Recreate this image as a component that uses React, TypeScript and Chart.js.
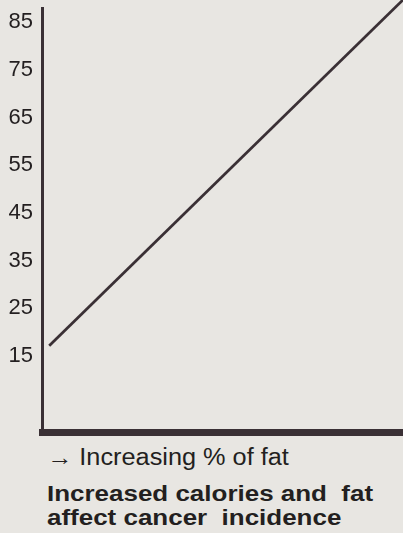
import React, { useEffect, useRef } from "react";
import { Chart, registerables } from "chart.js";

Chart.register(...registerables);

// Data
const fatPercent = [2, 100];
const cancerIncidence = [17.1, 89.7];
const yTickValues = [15, 25, 35, 45, 55, 65, 75, 85];
const xAxisLabel = "→ Increasing % of fat";
const captionLines = ["Increased calories and  fat", "affect cancer  incidence"];

const BG = "#e8e6e2";
const INK = "#3a3035";
const TEXT = "#231f20";
const FONT = "'Liberation Sans', Arial, Helvetica, sans-serif";

export default function App() {
  const ref = useRef<HTMLCanvasElement | null>(null);

  useEffect(() => {
    const canvas = ref.current;
    if (!canvas) return;
    const chart = new Chart(canvas, {
      type: "line",
      data: {
        datasets: [
          {
            data: fatPercent.map((x, i) => ({ x, y: cancerIncidence[i] })),
            borderColor: INK,
            borderWidth: 2.8,
            pointRadius: 0,
            tension: 0,
            clip: false as any,
          },
        ],
      },
      options: {
        responsive: false,
        animation: false,
        layout: { padding: { top: 8, bottom: 8, left: 0, right: 0 } },
        plugins: { legend: { display: false }, tooltip: { enabled: false } },
        scales: {
          x: {
            type: "linear",
            min: 0,
            max: 100,
            ticks: { display: false },
            grid: { display: false, drawTicks: false, tickLength: 0 },
            border: { display: true, color: INK, width: 7 },
            afterFit: (s: any) => {
              s.height = 0;
              s.paddingLeft = 0;
              s.paddingRight = 0;
            },
          },
          y: {
            type: "linear",
            min: -1,
            max: 88,
            afterBuildTicks: (s: any) => {
              s.ticks = yTickValues.map((v) => ({ value: v }));
            },
            ticks: {
              color: TEXT,
              padding: 9,
              font: { family: FONT, size: 22 },
            },
            grid: { display: false, drawTicks: false, tickLength: 0 },
            border: { display: true, color: INK, width: 3 },
            afterFit: (s: any) => {
              s.width = 42;
              s.paddingTop = 0;
              s.paddingBottom = 0;
            },
          },
        },
      },
    });
    return () => chart.destroy();
  }, []);

  return (
    <div
      style={{
        position: "fixed",
        left: 0,
        top: 0,
        width: 403,
        height: 533,
        background: BG,
        overflow: "hidden",
        fontFamily: FONT,
        color: TEXT,
      }}
    >
      <canvas ref={ref} width={403} height={440} style={{ position: "absolute", left: 0, top: 0 }} />
      <div
        style={{
          position: "absolute",
          left: 47,
          top: 445,
          fontSize: 23,
          lineHeight: "24px",
          whiteSpace: "pre",
          transform: "scaleX(1.1)",
          transformOrigin: "0 0",
        }}
      >
        {xAxisLabel}
      </div>
      <div
        style={{
          position: "absolute",
          left: 47,
          top: 482,
          fontSize: 22,
          fontWeight: "bold",
          lineHeight: "24px",
          whiteSpace: "pre",
          transform: "scaleX(1.18)",
          transformOrigin: "0 0",
        }}
      >
        {captionLines.map((l, i) => (
          <div key={i}>{l}</div>
        ))}
      </div>
    </div>
  );
}
